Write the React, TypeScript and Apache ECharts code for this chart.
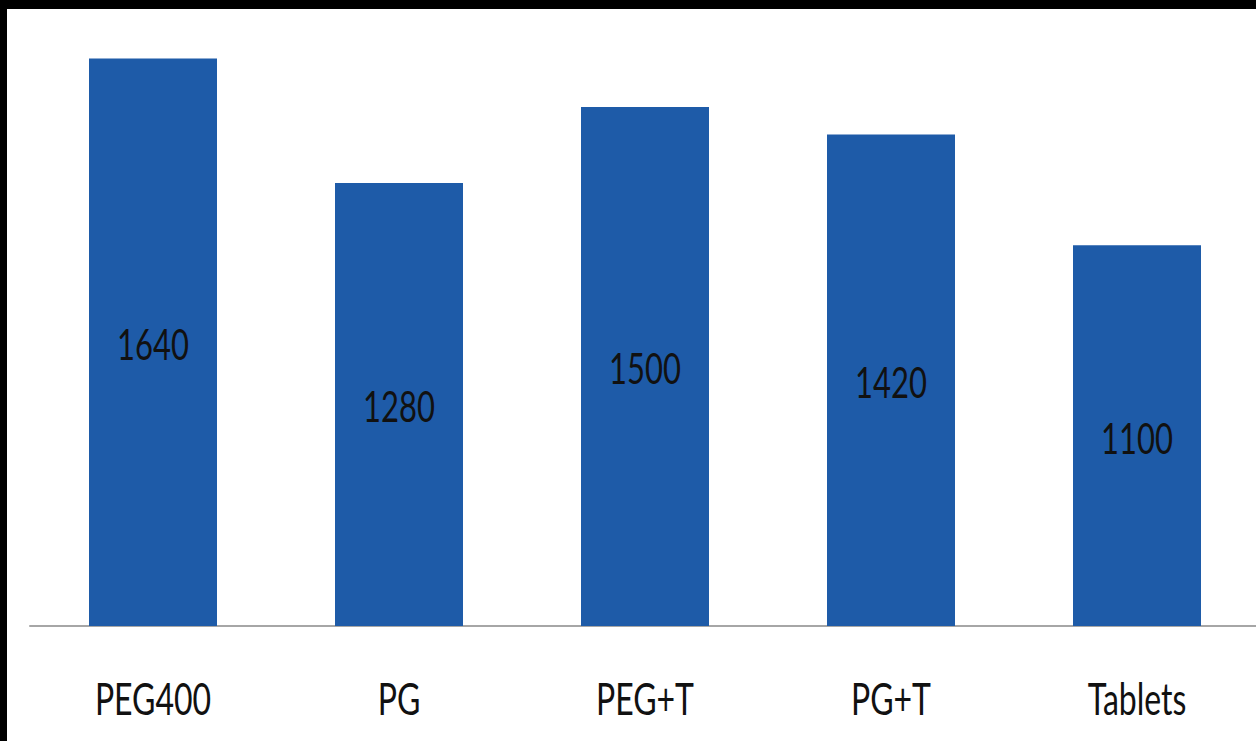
import React, { useEffect, useRef } from "react";
import * as echarts from "echarts";

const categories = ["PEG400", "PG", "PEG+T", "PG+T", "Tablets"];
const values = [1640, 1280, 1500, 1420, 1100];

const BAR_COLOR = "#1e5ba8";
const TEXT_FONT = "Lato, 'Open Sans', sans-serif";

export default function App() {
  const ref = useRef<HTMLDivElement>(null);

  useEffect(() => {
    if (!ref.current) return;
    const chart = echarts.init(ref.current, undefined, { renderer: "svg" });
    chart.setOption({
      animation: false,
      backgroundColor: "#ffffff",
      grid: { left: 23, right: 0, top: 1, bottom: 115, containLabel: false },
      xAxis: {
        type: "category",
        data: categories,
        axisLine: { show: true, lineStyle: { color: "#a6a6a6", width: 2 } },
        axisTick: { show: false },
        axisLabel: { show: false },
      },
      yAxis: {
        type: "value",
        min: 0,
        max: 1780,
        show: false,
        splitLine: { show: false },
      },
      series: [
        {
          type: "bar",
          data: values,
          barWidth: 128,
          itemStyle: { color: BAR_COLOR },
          label: { show: false },
          z: 2,
        },
        {
          // value labels centred in each bar and category names under the axis,
          // drawn with a vertical stretch
          type: "custom",
          data: values.map((v, i) => [i, v]),
          z: 5,
          renderItem: (params: any, api: any) => {
            const i = api.value(0);
            const v = api.value(1);
            const top = api.coord([i, v]);
            const base = api.coord([i, 0]);
            return {
              type: "group",
              children: [
                {
                  type: "text",
                  x: top[0],
                  y: (top[1] + base[1]) / 2 + 2,
                  scaleY: 1.35,
                  style: {
                    text: String(v),
                    fontSize: 31,
                    fontFamily: TEXT_FONT,
                    fill: "#111111",
                    align: "center",
                    verticalAlign: "middle",
                  },
                },
                {
                  type: "text",
                  x: base[0],
                  y: base[1] + 72,
                  scaleY: 1.4,
                  style: {
                    text: categories[i],
                    fontSize: 32,
                    fontFamily: TEXT_FONT,
                    fill: "#111111",
                    align: "center",
                    verticalAlign: "middle",
                  },
                },
              ],
            };
          },
        },
      ],
    });
    return () => chart.dispose();
  }, []);

  return (
    <div
      style={{
        position: "fixed",
        left: 0,
        top: 0,
        width: 1256,
        height: 741,
        background: "#000000",
        overflow: "hidden",
      }}
    >
      <div
        ref={ref}
        style={{ position: "absolute", left: 7, top: 9, width: 1253, height: 732, background: "#ffffff" }}
      />
    </div>
  );
}
